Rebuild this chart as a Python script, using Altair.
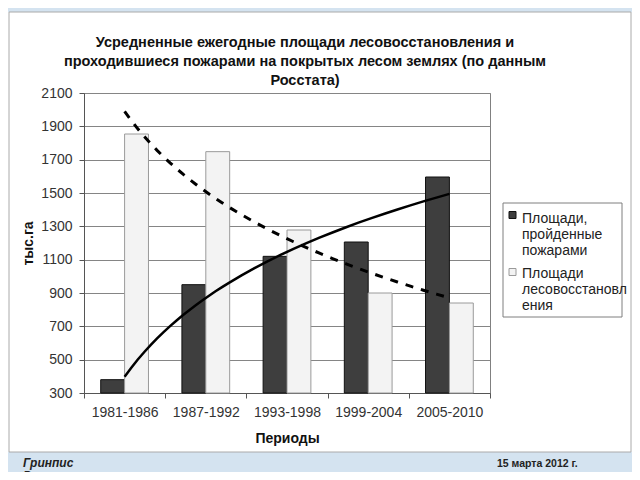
import altair as alt
import pandas as pd

# ---------------- data ----------------
periods = ["1981-1986", "1987-1992", "1993-1998", "1999-2004", "2005-2010"]
period_index = [1, 2, 3, 4, 5]
fires = [380, 950, 1120, 1206, 1596]
reforestation = [1854, 1748, 1278, 900, 840]
series_names = ["Площади, пройденные пожарами", "Площади лесовосстановления"]
legend_lines = ["Площади,\nпройденные\nпожарами", "Площади\nлесовосстановл\nения"]
y_ticks = [300, 500, 700, 900, 1100, 1300, 1500, 1700, 1900, 2100]
title_text = ("Усредненные ежегодные площади лесовосстановления и\n"
              "проходившиеся пожарами на покрытых лесом землях (по данным\n"
              "Росстата)")
y_title = "тыс.га"
x_title = "Периоды"
footer_left = "Гринпис\nРоссии"
footer_right = "15 марта 2012 г."

rows = []
for i, p in enumerate(periods):
    rows.append({"period": p, "idx": period_index[i], "series": series_names[0], "value": fires[i]})
    rows.append({"period": p, "idx": period_index[i], "series": series_names[1], "value": reforestation[i]})
df = pd.DataFrame(rows)
dummy = pd.DataFrame({"k": [0]})

# ---------------- style ----------------
W, H = 406, 300
FONT = "Liberation Sans"
BLUE = "#d4e3f0"
DARK = "#3e3e3e"
LIGHT = "#f3f3f3"

y_scale = alt.Scale(domain=[300, 2100], nice=False, zero=False)
y_enc = alt.Y(
    "value:Q",
    scale=y_scale,
    axis=alt.Axis(
        values=y_ticks, format="d", title=y_title, grid=True, gridColor="#858585", gridWidth=1,
        tickSize=5, tickColor="#555", domainColor="#555", labelPadding=7,
        labelFont=FONT, labelFontSize=14, labelColor="#333",
        titleFont=FONT, titleFontSize=14, titleFontWeight="bold", titleColor="#111",
        titleX=-56, titleY=150, titleAngle=-90, titleBaseline="middle", titleAlign="center",
    ),
)

base = alt.Chart(df)

bars = base.mark_bar(strokeWidth=1).encode(
    x=alt.X(
        "period:N", sort=periods,
        scale=alt.Scale(paddingInner=0, paddingOuter=0),
        axis=alt.Axis(
            title=x_title, labelAngle=0, tickBand="extent", tickSize=5, tickColor="#555",
            domainColor="#555", labelPadding=7, labelFont=FONT, labelFontSize=14,
            labelColor="#333", titleFont=FONT, titleFontSize=14, titleFontWeight="bold",
            titleColor="#111", titleY=45, titleBaseline="middle", grid=False,
        ),
    ),
    xOffset=alt.XOffset("series:N", sort=series_names,
                        scale=alt.Scale(paddingInner=0, paddingOuter=0.7)),
    y=y_enc,
    y2=alt.datum(300),
    fill=alt.Fill("series:N", scale=alt.Scale(domain=series_names, range=[DARK, LIGHT]), legend=None),
    stroke=alt.Stroke("series:N", scale=alt.Scale(domain=series_names, range=["#111111", "#9a9a9a"]), legend=None),
)

trend_x = alt.X("idx:Q", scale=alt.Scale(domain=[0.5, 5.5], nice=False, zero=False), axis=None)

fire_trend = (
    base.transform_filter(alt.datum.series == series_names[0])
    .transform_regression("idx", "value", method="log", extent=[1, 5])
    .mark_line(color="black", strokeWidth=2.5)
    .encode(x=trend_x, y=y_enc)
)
ref_trend = (
    base.transform_filter(alt.datum.series == series_names[1])
    .transform_regression("idx", "value", method="log", extent=[1, 5])
    .mark_line(color="black", strokeWidth=3, strokeDash=[8, 8])
    .encode(x=trend_x, y=y_enc)
)

# ---------------- decorations (pixel-space) ----------------
d = alt.Chart(dummy)
blue_bottom = d.mark_rect(color=BLUE).encode(
    x=alt.value(-100), x2=alt.value(600), y=alt.value(359), y2=alt.value(400))
blue_top = d.mark_rect(color=BLUE).encode(
    x=alt.value(-100), x2=alt.value(600), y=alt.value(-100), y2=alt.value(-81))
border_top = d.mark_rule(color="#aaaaaa", strokeWidth=1).encode(
    x=alt.value(-75), x2=alt.value(547), y=alt.value(-81))
border_bottom = d.mark_rule(color="#aaaaaa", strokeWidth=1).encode(
    x=alt.value(-75), x2=alt.value(547), y=alt.value(359))
border_left = d.mark_rule(color="#aaaaaa", strokeWidth=1).encode(
    x=alt.value(-75), y=alt.value(-81), y2=alt.value(359))
border_right = d.mark_rule(color="#aaaaaa", strokeWidth=1).encode(
    x=alt.value(547), y=alt.value(-81), y2=alt.value(359))

title = d.mark_text(align="center", baseline="alphabetic", lineBreak="\n", lineHeight=19,
                    font=FONT, fontSize=14.5, fontWeight="bold", color="#111").encode(
    x=alt.value(221), y=alt.value(-46), text=alt.value(title_text))

legend_box = d.mark_rect(fill="white", stroke="#7f7f7f", strokeWidth=1).encode(
    x=alt.value(419), x2=alt.value(538), y=alt.value(110), y2=alt.value(224))
sym1 = d.mark_rect(fill=DARK, stroke="#111", strokeWidth=1).encode(
    x=alt.value(425), x2=alt.value(432), y=alt.value(118.5), y2=alt.value(125.5))
sym2 = d.mark_rect(fill=LIGHT, stroke="#9a9a9a", strokeWidth=1).encode(
    x=alt.value(425), x2=alt.value(432), y=alt.value(175.5), y2=alt.value(182.5))
txt_kw = dict(align="left", baseline="alphabetic", lineBreak="\n", lineHeight=16,
              font=FONT, fontSize=14, color="#222")
lab1 = d.mark_text(**txt_kw).encode(x=alt.value(438), y=alt.value(129.5), text=alt.value(legend_lines[0]))
lab2 = d.mark_text(**txt_kw).encode(x=alt.value(438), y=alt.value(185), text=alt.value(legend_lines[1]))

foot_l = d.mark_text(align="left", baseline="alphabetic", lineBreak="\n", lineHeight=13,
                     font=FONT, fontSize=12, fontStyle="italic", fontWeight="bold",
                     color="#222").encode(x=alt.value(-61), y=alt.value(374), text=alt.value(footer_left))
foot_r = d.mark_text(align="left", baseline="alphabetic", font=FONT, fontSize=10.5,
                     fontWeight="bold", color="#222").encode(
    x=alt.value(413), y=alt.value(374), text=alt.value(footer_right))

chart = (
    alt.layer(
        blue_bottom, blue_top, border_top, border_bottom, border_left, border_right,
        bars, fire_trend, ref_trend, title,
        legend_box, sym1, sym2, lab1, lab2, foot_l, foot_r,
    )
    .resolve_scale(x="independent")
    .properties(
        width=W, height=H,
        autosize=alt.AutoSizeParams(type="none"),
        padding={"left": 76, "top": 85, "right": 142, "bottom": 79},
        background="white",
    )
    .configure_view(stroke="#808080", strokeWidth=1)
)

chart.save("out.html", embed_options={"renderer": "svg", "actions": False})
